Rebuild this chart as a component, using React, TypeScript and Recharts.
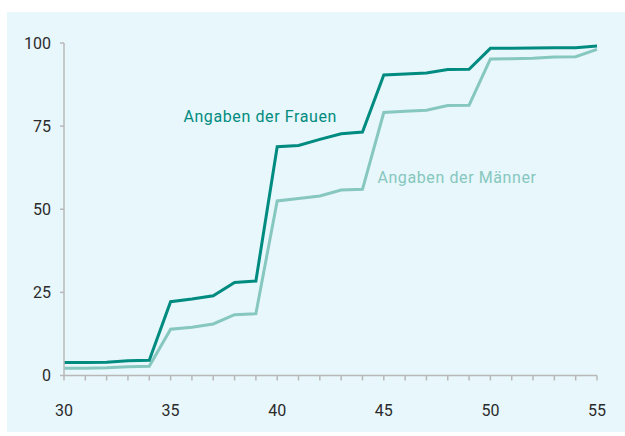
import React from "react";
import { LineChart, Line, XAxis, YAxis, ReferenceDot } from "recharts";

const ages = [30, 31, 32, 33, 34, 35, 36, 37, 38, 39, 40, 41, 42, 43, 44, 45, 46, 47, 48, 49, 50, 51, 52, 53, 54, 55];
const frauen = [3.9, 3.9, 4.0, 4.4, 4.6, 22.2, 23.0, 24.0, 28.0, 28.4, 68.8, 69.2, 71.0, 72.7, 73.2, 90.4, 90.7, 91.0, 92.0, 92.1, 98.4, 98.4, 98.5, 98.6, 98.6, 99.1];
const maenner = [2.2, 2.2, 2.3, 2.6, 2.8, 13.9, 14.5, 15.5, 18.3, 18.6, 52.5, 53.2, 54.0, 55.8, 56.0, 79.1, 79.5, 79.8, 81.2, 81.3, 95.2, 95.3, 95.4, 95.8, 95.9, 98.1];
const yTicks = [0, 25, 50, 75, 100];
const xLabelStep = 5;
const labelFrauen = { text: "Angaben der Frauen", x: 35.6, y: 78 };
const labelMaenner = { text: "Angaben der Männer", x: 44.7, y: 59.7 };

const data = ages.map((a, i) => ({ age: a, frauen: frauen[i], maenner: maenner[i] }));

const C_F = "#008b80";
const C_M = "#86c7bf";
const AXIS = "#b8b8b8";
const FONT = "Roboto, 'Liberation Sans', sans-serif";

const XTick = (props: any) => {
  const { x, y, payload } = props;
  if (payload.value % xLabelStep !== 0) return null;
  return (
    <text x={x} y={y + 33.5} textAnchor="middle" fontSize={16} fill="#2b2b2b" fontFamily={FONT}>
      {payload.value}
    </text>
  );
};

const makeLabel = (text: string, color: string) => (props: any) => {
  const vb = props.viewBox || {};
  return (
    <text x={vb.x} y={vb.y} dy="0.35em" textAnchor="start" fontSize={16} letterSpacing={0.6} fill={color} fontFamily={FONT}>
      {text}
    </text>
  );
};

export default function App() {
  return (
    <div style={{ position: "absolute", left: 7, top: 12, width: 618, height: 420, background: "#e8f7fb" }}>
      <LineChart width={618} height={420} data={data} margin={{ top: 31, right: 28, bottom: 16.5, left: 0 }}>
        <XAxis
          type="number"
          dataKey="age"
          domain={[30, 55]}
          ticks={ages}
          interval={0}
          height={40}
          tickSize={5}
          tickMargin={2}
          stroke={AXIS}
          axisLine={{ stroke: AXIS, strokeWidth: 1.5 }}
          tickLine={{ stroke: AXIS, strokeWidth: 1.5 }}
          tick={<XTick />}
        />
        <YAxis
          type="number"
          domain={[0, 100]}
          ticks={yTicks}
          width={57}
          tickSize={4}
          tickMargin={9}
          axisLine={{ stroke: AXIS, strokeWidth: 1.5 }}
          tickLine={{ stroke: AXIS, strokeWidth: 1.5 }}
          tick={{ fontSize: 16, fill: "#2b2b2b", fontFamily: FONT }}
        />
        <Line type="linear" dataKey="maenner" stroke={C_M} strokeWidth={3} dot={false} isAnimationActive={false} />
        <Line type="linear" dataKey="frauen" stroke={C_F} strokeWidth={3} dot={false} isAnimationActive={false} />
        <ReferenceDot x={labelFrauen.x} y={labelFrauen.y} r={0} stroke="none" fill="none" label={makeLabel(labelFrauen.text, C_F)} />
        <ReferenceDot x={labelMaenner.x} y={labelMaenner.y} r={0} stroke="none" fill="none" label={makeLabel(labelMaenner.text, C_M)} />
      </LineChart>
    </div>
  );
}
